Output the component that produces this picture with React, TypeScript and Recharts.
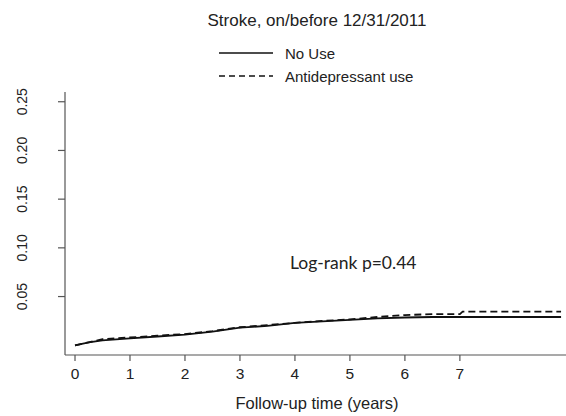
import React from "react";
import { LineChart, Line, XAxis, YAxis } from "recharts";

const times = [0, 0.25, 0.5, 0.75, 1, 1.5, 2, 2.5, 3, 3.5, 4, 4.5, 5, 5.5, 6, 6.5, 7, 7.05, 7.5, 8, 8.84];
const noUse = [0, 0.003, 0.005, 0.006, 0.007, 0.009, 0.011, 0.014, 0.018, 0.02, 0.023, 0.0245, 0.026, 0.0275, 0.0285, 0.029, 0.029, 0.029, 0.029, 0.029, 0.029];
const antidep = [0, 0.003, 0.0062, 0.0072, 0.008, 0.0098, 0.0115, 0.0145, 0.0185, 0.0207, 0.023, 0.025, 0.0265, 0.029, 0.031, 0.032, 0.032, 0.0345, 0.0345, 0.0345, 0.0345];
const xTicks = [0, 1, 2, 3, 4, 5, 6, 7];
const yTicks = [0.05, 0.1, 0.15, 0.2, 0.25];
const yTickLabels = ["0.05", "0.10", "0.15", "0.20", "0.25"];

const data = times.map((t, i) => ({ t, noUse: noUse[i], antidep: antidep[i] }));

const FONT = "'Liberation Sans', Arial, sans-serif";
const INK = "#222";

const YTick = (props: any) => {
  const { y, payload } = props;
  const idx = yTicks.indexOf(payload.value);
  const label = idx >= 0 ? yTickLabels[idx] : String(payload.value);
  return (
    <text
      x={22}
      y={y}
      transform={`rotate(-90, 22, ${y})`}
      textAnchor="middle"
      dominantBaseline="central"
      fontFamily={FONT}
      fontSize={14}
      fill={INK}
    >
      {label}
    </text>
  );
};

const XTick = (props: any) => {
  const { x, payload } = props;
  return (
    <text x={x} y={373} textAnchor="middle" dominantBaseline="central" fontFamily={FONT} fontSize={15.5} fill={INK}>
      {payload.value}
    </text>
  );
};

export default function App() {
  return (
    <div style={{ position: "absolute", left: 0, top: 0, width: 566, height: 416, background: "#fff" }}>
      <LineChart width={566} height={416} data={data} margin={{ top: 92, right: 0, bottom: 0, left: 0 }}>
        <XAxis
          dataKey="t"
          type="number"
          domain={[-0.182, 8.93]}
          ticks={xTicks}
          allowDataOverflow
          height={61}
          tickSize={6}
          tick={<XTick />}
          axisLine={{ stroke: "#555", strokeWidth: 1.2 }}
          tickLine={{ stroke: "#555", strokeWidth: 1.2 }}
        />
        <YAxis
          type="number"
          domain={[-0.01, 0.26]}
          ticks={yTicks}
          allowDataOverflow
          width={65}
          tickSize={7}
          tick={<YTick />}
          axisLine={{ stroke: "#555", strokeWidth: 1.2 }}
          tickLine={{ stroke: "#555", strokeWidth: 1.2 }}
        />
        <Line dataKey="noUse" type="linear" stroke="#111" strokeWidth={1.8} dot={false} isAnimationActive={false} />
        <Line dataKey="antidep" type="linear" stroke="#111" strokeWidth={1.8} strokeDasharray="7 4" dot={false} isAnimationActive={false} />
      </LineChart>
      <div style={{ position: "absolute", left: 0, width: 634, top: 11, textAlign: "center", fontFamily: FONT, fontSize: 17, color: INK, lineHeight: "20px", whiteSpace: "nowrap" }}>
        Stroke, on/before 12/31/2011
      </div>
      <svg style={{ position: "absolute", left: 0, top: 0 }} width={566} height={100}>
        <line x1={219} x2={273} y1={53} y2={53} stroke="#111" strokeWidth={1.5} />
        <line x1={219} x2={273} y1={76} y2={76} stroke="#111" strokeWidth={1.5} strokeDasharray="6 4" />
        <text x={285} y={53} dominantBaseline="central" fontFamily={FONT} fontSize={15} fill={INK}>No Use</text>
        <text x={285} y={76} dominantBaseline="central" fontFamily={FONT} fontSize={15} fill={INK}>Antidepressant use</text>
      </svg>
      <div style={{ position: "absolute", left: 290, top: 252, fontFamily: "Lato, 'Open Sans', sans-serif", fontSize: 17.5, color: INK, lineHeight: "22px", whiteSpace: "nowrap" }}>
        Log-rank p=0.44
      </div>
      <div style={{ position: "absolute", left: 0, width: 634, top: 393, textAlign: "center", fontFamily: FONT, fontSize: 16.5, color: INK, lineHeight: "20px", whiteSpace: "nowrap" }}>
        Follow-up time (years)
      </div>
    </div>
  );
}
